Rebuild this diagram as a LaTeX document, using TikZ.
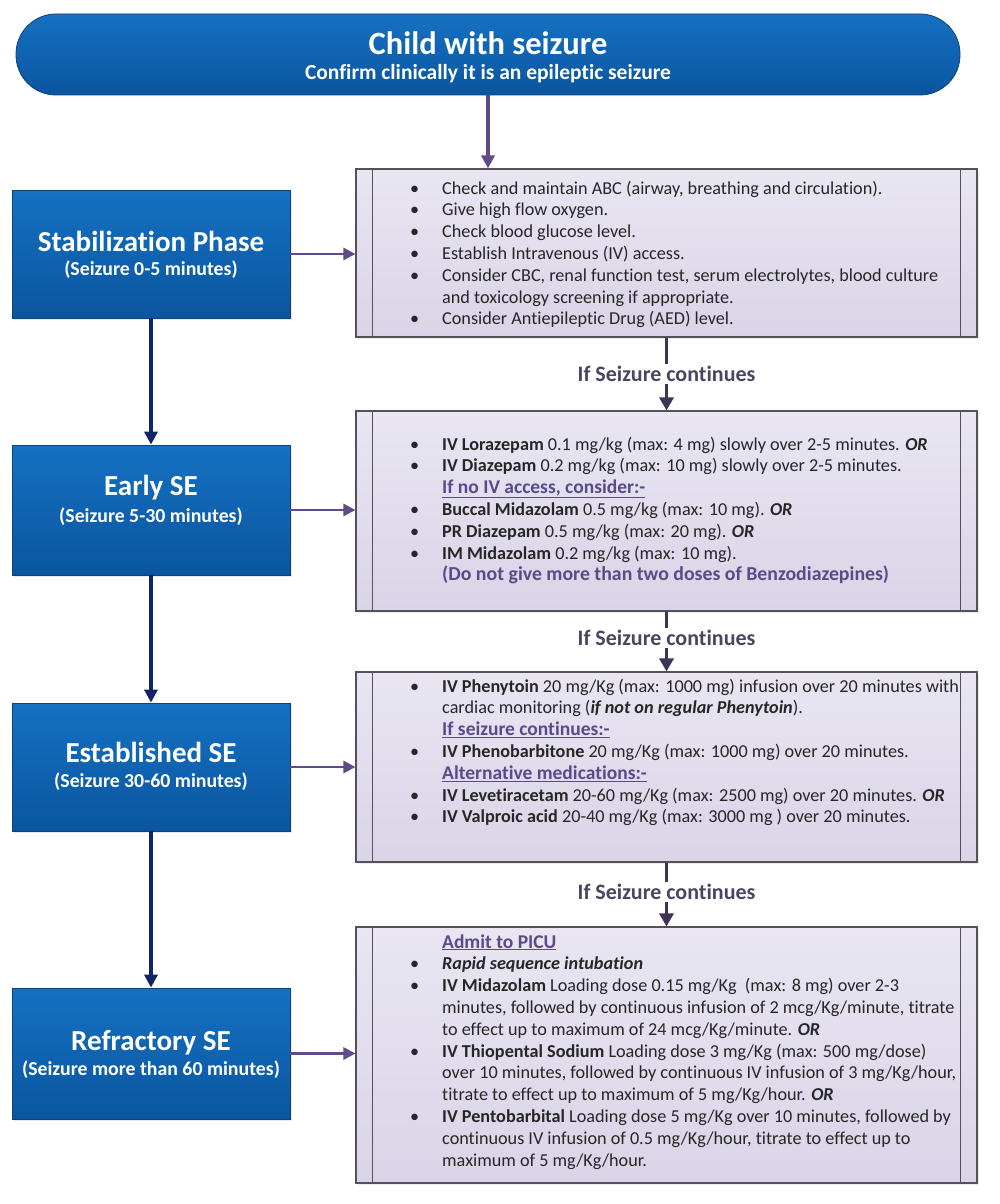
\documentclass[tikz,border=0pt]{standalone}
\usepackage{fontspec}
\setmainfont{Carlito}[Ligatures=NoCommon]
\usetikzlibrary{arrows.meta,shadows}
\definecolor{bTop}{HTML}{1571C2}
\definecolor{bBot}{HTML}{0A559F}
\definecolor{bEdge}{HTML}{0E4379}
\definecolor{gTop}{HTML}{E9E6F2}
\definecolor{gBot}{HTML}{D9D4E7}
\definecolor{gEdge}{HTML}{545159}
\definecolor{arrP}{HTML}{5F4B8B}
\definecolor{arrN}{HTML}{102468}
\definecolor{conP}{HTML}{3E3358}
\definecolor{labC}{HTML}{4A4560}
\definecolor{bodyC}{HTML}{262626}
\definecolor{purC}{HTML}{5A4A8A}
\newcommand\bul[1]{\par\hangindent=33pt\hangafter=1\noindent\makebox[33pt][l]{\hspace{1pt}\textbullet}#1}
\newcommand\hd[1]{\par\noindent\hspace*{33pt}#1}
\newcommand\pur[1]{\textcolor{purC}{#1}}
\newcommand\phd[1]{\pur{\fontsize{19.5}{21.8}\selectfont\bfseries\underline{#1}}}
\newcommand\bor{\textbf{\textit{OR}}}
\tikzset{
  banner/.style={draw=bEdge, line width=0.8pt, top color=bTop, bottom color=bBot,
    rounded corners=40pt, minimum width=944pt, minimum height=81pt, inner sep=0pt},
  phase/.style={draw=bEdge, line width=0.8pt, top color=bTop, bottom color=bBot,
    minimum width=278pt, inner sep=0pt,
    drop shadow={opacity=0.18, shadow xshift=2pt, shadow yshift=-2pt}},
  ptitle/.style={text=white, font=\fontsize{29}{31}\selectfont\bfseries, inner sep=0pt},
  psub/.style={text=white, font=\fontsize{19.8}{21}\selectfont\bfseries, inner sep=0pt},
  proc/.style={draw=gEdge, line width=1.1pt, top color=gTop, bottom color=gBot,
    minimum width=621pt, inner sep=0pt,
    drop shadow={opacity=0.15, shadow xshift=2pt, shadow yshift=-2pt}},
  procline/.style={draw=gEdge, line width=1.1pt},
  body/.style={anchor=base west, inner sep=0pt, text=bodyC,
    font=\fontsize{18.2}{21.8}\selectfont},
  parrow/.style={draw=arrP, line width=3.4pt, -{Triangle[length=13pt,width=13pt]}},
  harrow/.style={draw=arrP, line width=2.8pt, -{Triangle[length=12pt,width=12pt]}},
  narrow/.style={draw=arrN, line width=3.2pt, -{Triangle[length=13pt,width=13pt]}},
  cline/.style={draw=conP, line width=3.4pt},
  carrow/.style={draw=conP, line width=3.4pt, -{Triangle[length=13pt,width=14pt]}},
  clabel/.style={text=labC, font=\fontsize{22}{24}\selectfont\bfseries, inner sep=2pt}
}
\begin{document}
\begin{tikzpicture}[x=1pt,y=-1pt]
\useasboundingbox[fill=white] (0,0) rectangle (1000,1204);

% banner
\node[banner] (top) at (488,54.5) {};
\node[text=white, font=\fontsize{32.5}{34}\selectfont\bfseries, inner sep=0pt] (toptitle) at (488,43) {Child with seizure};
\node[text=white, font=\fontsize{21.5}{23}\selectfont\bfseries, inner sep=0pt] (topsub) at (488,74) {Confirm clinically it is an epileptic seizure};

% phase boxes
\node[phase, minimum height=128pt] (p1) at (151,254) {};
\node[ptitle] (p1t) at (151,241) {Stabilization Phase};
\node[psub] (p1s) at (151,270) {(Seizure 0-5 minutes)};

\node[phase, minimum height=130pt] (p2) at (151,510) {};
\node[ptitle] (p2t) at (151,488) {Early SE};
\node[psub] (p2s) at (151,517) {(Seizure 5-30 minutes)};

\node[phase, minimum height=128pt] (p3) at (151,767) {};
\node[ptitle] (p3t) at (151,752) {Established SE};
\node[psub] (p3s) at (151,782) {(Seizure 30-60 minutes)};

\node[phase, minimum height=131pt] (p4) at (151,1053.5) {};
\node[ptitle] (p4t) at (151,1043) {Refractory SE};
\node[psub] (p4s) at (151,1070) {(Seizure more than 60 minutes)};

% process boxes
\node[proc, minimum height=168pt] (b1) at (666.5,253) {};
\node[proc, minimum height=200pt] (b2) at (666.5,511) {};
\node[proc, minimum height=190pt] (b3) at (666.5,767) {};
\node[proc, minimum height=256pt] (b4) at (666.5,1055) {};
\foreach \b in {b1,b2,b3,b4}{
  \draw[procline] ([xshift=17pt]\b.north west) -- ([xshift=17pt]\b.south west);
  \draw[procline] ([xshift=-17pt]\b.north east) -- ([xshift=-17pt]\b.south east);
}

% texts
\node[body] (t1) at (409,194) {\begin{minipage}[t]{590pt}\raggedright
\bul{Check and maintain ABC (airway, breathing and circulation).}
\bul{Give high flow oxygen.}
\bul{Check blood glucose level.}
\bul{Establish Intravenous (IV) access.}
\bul{Consider CBC, renal function test, serum electrolytes, blood culture\newline and toxicology screening if appropriate.}
\bul{Consider Antiepileptic Drug (AED) level.}
\end{minipage}};

\node[body] (t2) at (409,450) {\begin{minipage}[t]{590pt}\raggedright
\bul{\textbf{IV Lorazepam} 0.1 mg/kg (max: 4 mg) slowly over 2-5 minutes. \bor}
\bul{\textbf{IV Diazepam} 0.2 mg/kg (max: 10 mg) slowly over 2-5 minutes.}
\hd{\phd{If no IV access, consider:-}}
\bul{\textbf{Buccal Midazolam} 0.5 mg/kg (max: 10 mg). \bor}
\bul{\textbf{PR Diazepam} 0.5 mg/kg (max: 20 mg). \bor}
\bul{\textbf{IM Midazolam} 0.2 mg/kg (max: 10 mg).}
\hd{\pur{\fontsize{19.8}{21.8}\selectfont\bfseries (Do not give more than two doses of Benzodiazepines)}}
\end{minipage}};

\node[body] (t3) at (409,692) {\begin{minipage}[t]{590pt}\raggedright
\bul{\textbf{IV Phenytoin} 20 mg/Kg (max: 1000 mg) infusion over 20 minutes with\newline cardiac monitoring (\textbf{\textit{if not on regular Phenytoin}}).}
\hd{\phd{If seizure continues:-}}
\bul{\textbf{IV Phenobarbitone} 20 mg/Kg (max: 1000 mg) over 20 minutes.}
\hd{\phd{Alternative medications:-}}
\bul{\textbf{IV Levetiracetam} 20-60 mg/Kg (max: 2500 mg) over 20 minutes. \bor}
\bul{\textbf{IV Valproic acid} 20-40 mg/Kg (max: 3000 mg ) over 20 minutes.}
\end{minipage}};

\node[body] (t4) at (409,948) {\begin{minipage}[t]{590pt}\raggedright
\hd{\phd{Admit to PICU}}
\bul{\textbf{\textit{Rapid sequence intubation}}}
\bul{\textbf{IV Midazolam} Loading dose 0.15 mg/Kg\ \ (max: 8 mg) over 2-3\newline minutes, followed by continuous infusion of 2 mcg/Kg/minute, titrate\newline to effect up to maximum of 24 mcg/Kg/minute. \bor}
\bul{\textbf{IV Thiopental Sodium} Loading dose 3 mg/Kg (max: 500 mg/dose)\newline over 10 minutes, followed by continuous IV infusion of 3 mg/Kg/hour,\newline titrate to effect up to maximum of 5 mg/Kg/hour. \bor}
\bul{\textbf{IV Pentobarbital} Loading dose 5 mg/Kg over 10 minutes, followed by\newline continuous IV infusion of 0.5 mg/Kg/hour, titrate to effect up to\newline maximum of 5 mg/Kg/hour.}
\end{minipage}};

% connectors
\draw[parrow] (top.south) -- (top.south |- b1.north);
\draw[narrow] (p1.south) -- (p2.north);
\draw[narrow] (p2.south) -- (p3.north);
\draw[narrow] (p3.south) -- (p4.north);
\draw[harrow] (p1.east) -- (p1.east -| b1.west);
\draw[harrow] (p2.east) -- (p2.east -| b2.west);
\draw[harrow] (p3.east) -- (p3.east -| b3.west);
\draw[harrow] (p4.east) -- (p4.east -| b4.west);

\node[clabel] (c1) at (666.5,374) {If Seizure continues};
\node[clabel] (c2) at (666.5,638) {If Seizure continues};
\node[clabel] (c3) at (666.5,892) {If Seizure continues};
\draw[cline] (b1.south) -- (c1.north);
\draw[carrow] (c1.south) -- (b2.north);
\draw[cline] (b2.south) -- (c2.north);
\draw[carrow] (c2.south) -- (b3.north);
\draw[cline] (b3.south) -- (c3.north);
\draw[carrow] (c3.south) -- (b4.north);
\end{tikzpicture}
\end{document}
